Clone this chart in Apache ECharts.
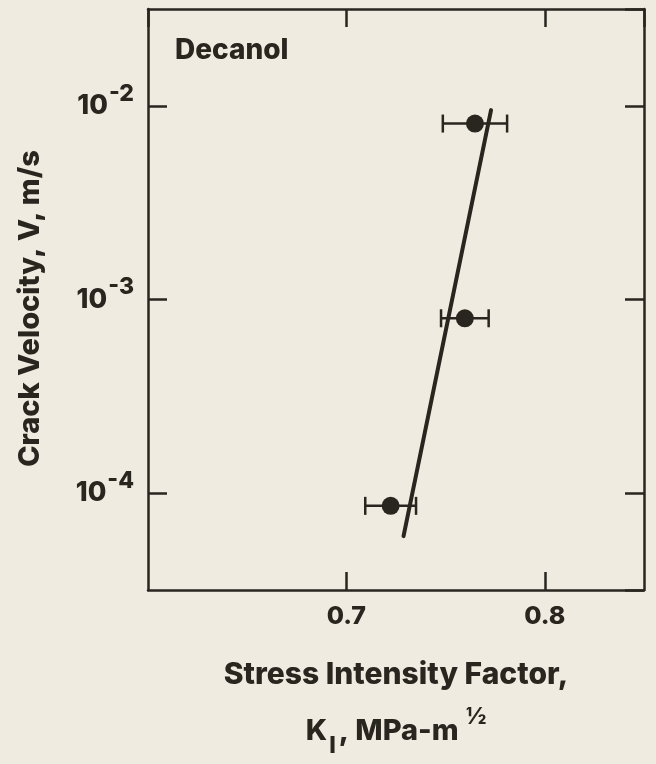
<!DOCTYPE html>
<html>
<head>
<meta charset="utf-8">
<script src="https://cdn.jsdelivr.net/npm/echarts@6/dist/echarts.min.js"></script>
<style>
html,body{margin:0;padding:0;background:#efebe1;}
#chart{width:656px;height:764px;}
</style>
</head>
<body>
<div id="chart"></div>
<script>
// Data
const kValues = [0.7648, 0.7597, 0.7223];          // K_I, MPa-m^1/2
const kErrors = [0.0162, 0.0120, 0.0128];          // +/- error in K_I
const velocities = [8.1e-3, 8.0e-4, 8.6e-5];       // crack velocity, m/s
const fitK = [0.7288, 0.7729];                     // fitted line end points (K_I)
const fitV = [6.0e-5, 9.5e-3];                     // fitted line end points (V)
const xTickLabels = ['0.7', '0.8'];
const seriesLabel = 'Decanol';

const ink = '#29251f';
const FONT = 'Inter, "Liberation Sans", Arial, sans-serif';
const W = 800;

const points = kValues.map((k, i) => [k, velocities[i]]);
const errData = kValues.map((k, i) => [k - kErrors[i], k + kErrors[i], velocities[i]]);
const fitData = fitK.map((k, i) => [k, fitV[i]]);

const chart = echarts.init(document.getElementById('chart'), null, {renderer: 'canvas'});

const xCommon = {
  type: 'value', min: 0.6, max: 0.85, interval: 0.1,
  axisLine: {show: true, lineStyle: {color: ink, width: 2.5}},
  axisTick: {show: true, inside: true, length: 18, lineStyle: {color: ink, width: 2.5}},
  splitLine: {show: false}
};
const yCommon = {
  type: 'log', logBase: 10, min: Math.pow(10, -4.5), max: Math.pow(10, -1.5),
  axisLine: {show: true, lineStyle: {color: ink, width: 2.5}},
  axisTick: {show: true, inside: true, length: 19, lineStyle: {color: ink, width: 2.5}},
  splitLine: {show: false}, minorTick: {show: false}
};

chart.setOption({
  backgroundColor: '#efebe1',
  animation: false,
  grid: {left: 148, right: 12, top: 9, bottom: 172, containLabel: false},
  xAxis: [
    Object.assign({}, xCommon, {
      position: 'bottom',
      name: 'Stress Intensity Factor,\n{k|K}{sub|I}{k|, MPa-m}{sup|½}',
      nameLocation: 'middle', nameGap: 57,
      nameTextStyle: {
        fontFamily: FONT, fontWeight: W, fontSize: 30, color: ink, lineHeight: 56,
        rich: {
          k: {fontFamily: FONT, fontWeight: W, fontSize: 29, color: ink, lineHeight: 56},
          sub: {fontFamily: FONT, fontWeight: W, fontSize: 23, color: ink, lineHeight: 23, padding: [30, 3, 0, 2]},
          sup: {fontFamily: FONT, fontWeight: W, fontSize: 23, color: ink, lineHeight: 23, padding: [0, 0, 28, 7]}
        }
      },
      axisLabel: {
        show: true, showMinLabel: false, showMaxLabel: false, margin: 13,
        fontFamily: FONT, fontWeight: W, fontSize: 25, color: ink, lineHeight: 26,
        formatter: function (v) {
          const s = v.toFixed(1);
          return xTickLabels.indexOf(s) >= 0 ? s : '';
        }
      }
    }),
    Object.assign({}, xCommon, {position: 'top', axisLabel: {show: false}})
  ],
  yAxis: [
    Object.assign({}, yCommon, {
      position: 'left',
      name: 'Crack Velocity, V, m/s',
      nameLocation: 'middle', nameGap: 103, nameRotate: 90,
      nameTextStyle: {fontFamily: FONT, fontWeight: W, fontSize: 29, color: ink, lineHeight: 30, padding: [0, 18, 0, 0]},
      axisLabel: {
        show: true, showMinLabel: false, showMaxLabel: false, margin: 14,
        formatter: function (v) {
          const e = Math.round(Math.log10(v));
          return '{b|10}{s|-' + Math.abs(e) + '}';
        },
        rich: {
          b: {fontFamily: FONT, fontWeight: W, fontSize: 27, color: ink, lineHeight: 27},
          s: {fontFamily: FONT, fontWeight: W, fontSize: 23, color: ink, lineHeight: 23, padding: [0, 0, 24, 1]}
        }
      }
    }),
    Object.assign({}, yCommon, {position: 'right', axisLabel: {show: false}})
  ],
  graphic: [{
    type: 'text', left: 175, top: 37, z: 100,
    style: {text: seriesLabel, fontFamily: FONT, fontWeight: W, fontSize: 28, fill: ink}
  }],
  series: [
    {
      type: 'custom', name: 'error', xAxisIndex: 0, yAxisIndex: 0, z: 2,
      data: errData, encode: {x: [0, 1], y: 2},
      renderItem: function (params, api) {
        const lo = api.coord([api.value(0), api.value(2)]);
        const hi = api.coord([api.value(1), api.value(2)]);
        const h = 9;
        const st = {stroke: ink, lineWidth: 2.5};
        return {type: 'group', children: [
          {type: 'line', shape: {x1: lo[0], y1: lo[1], x2: hi[0], y2: hi[1]}, style: st},
          {type: 'line', shape: {x1: lo[0], y1: lo[1] - h, x2: lo[0], y2: lo[1] + h}, style: st},
          {type: 'line', shape: {x1: hi[0], y1: hi[1] - h, x2: hi[0], y2: hi[1] + h}, style: st}
        ]};
      }
    },
    {
      type: 'scatter', name: seriesLabel, data: points, symbol: 'circle', symbolSize: 18, z: 3,
      itemStyle: {color: ink, opacity: 1}
    },
    {
      type: 'line', name: 'fit', data: fitData, showSymbol: false, symbol: 'none', z: 4,
      lineStyle: {color: ink, width: 4, cap: 'round', opacity: 1}
    }
  ]
});
</script>
</body>
</html>
